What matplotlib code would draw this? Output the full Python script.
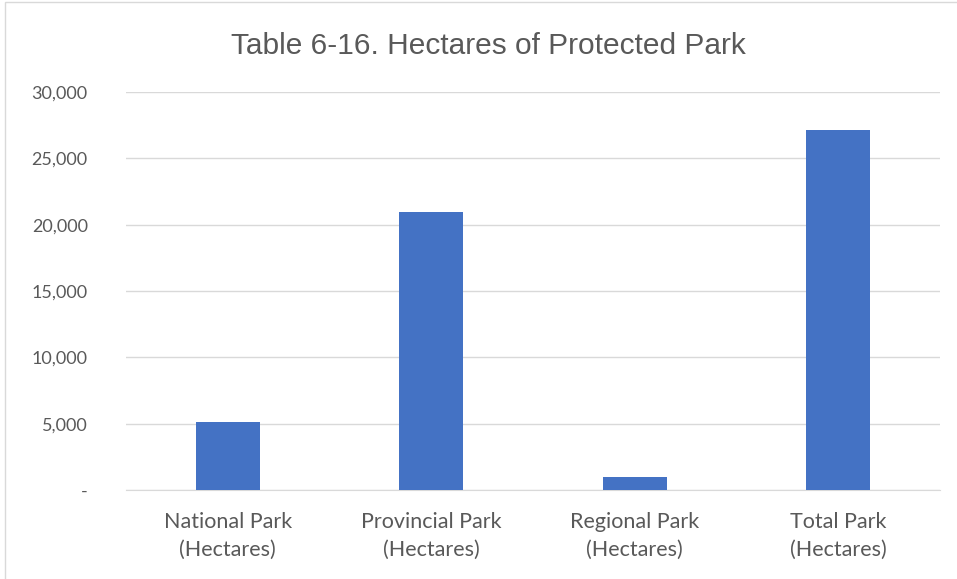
import matplotlib.pyplot as plt
from matplotlib.ticker import FuncFormatter
from matplotlib.patches import Rectangle

categories = ['National Park\n(Hectares)', 'Provincial Park\n(Hectares)',
              'Regional Park\n(Hectares)', 'Total Park\n(Hectares)']
hectares = [5100, 20950, 980, 27130]
yticks = [0, 5000, 10000, 15000, 20000, 25000, 30000]

fig = plt.figure(figsize=(9.57, 5.79), dpi=100)
ax = fig.add_axes([126/957, 1 - 490/579, 814/957, 398/579])

x = range(len(categories))
ax.bar(x, hectares, width=0.315, color='#4472C4', zorder=3)

ax.set_xlim(-0.5, 3.5)
ax.set_ylim(0, 30000)
ax.set_yticks(yticks)
ax.yaxis.set_major_formatter(FuncFormatter(lambda v, p: '-' if v == 0 else f'{int(v):,}'))
ax.set_xticks(list(x))
ax.set_xticklabels(categories, fontsize=15.5, color='#595959', family='Lato', linespacing=1.45)
for lab in ax.get_yticklabels():
    lab.set_fontsize(13)
    lab.set_color('#595959')
    lab.set_family('Lato')

ax.grid(axis='y', color='#d9d9d9', linewidth=1, zorder=0)
for s in ['top', 'right', 'left']:
    ax.spines[s].set_visible(False)
ax.spines['bottom'].set_color('#d9d9d9')
ax.tick_params(axis='both', length=0)
ax.tick_params(axis='y', pad=27.5)
ax.tick_params(axis='x', pad=16)

fig.text(488/957, 1 - 46/579, 'Table 6-16. Hectares of Protected Park', ha='center', va='center',
         fontsize=21.5, color='#595959', family='Liberation Sans')

fig.patches.append(Rectangle((5/957, -0.1), 1.2, 1.1 - 2/579, transform=fig.transFigure,
                             fill=False, edgecolor='#d9d9d9', linewidth=1))

fig.savefig('out.png', dpi=100)
